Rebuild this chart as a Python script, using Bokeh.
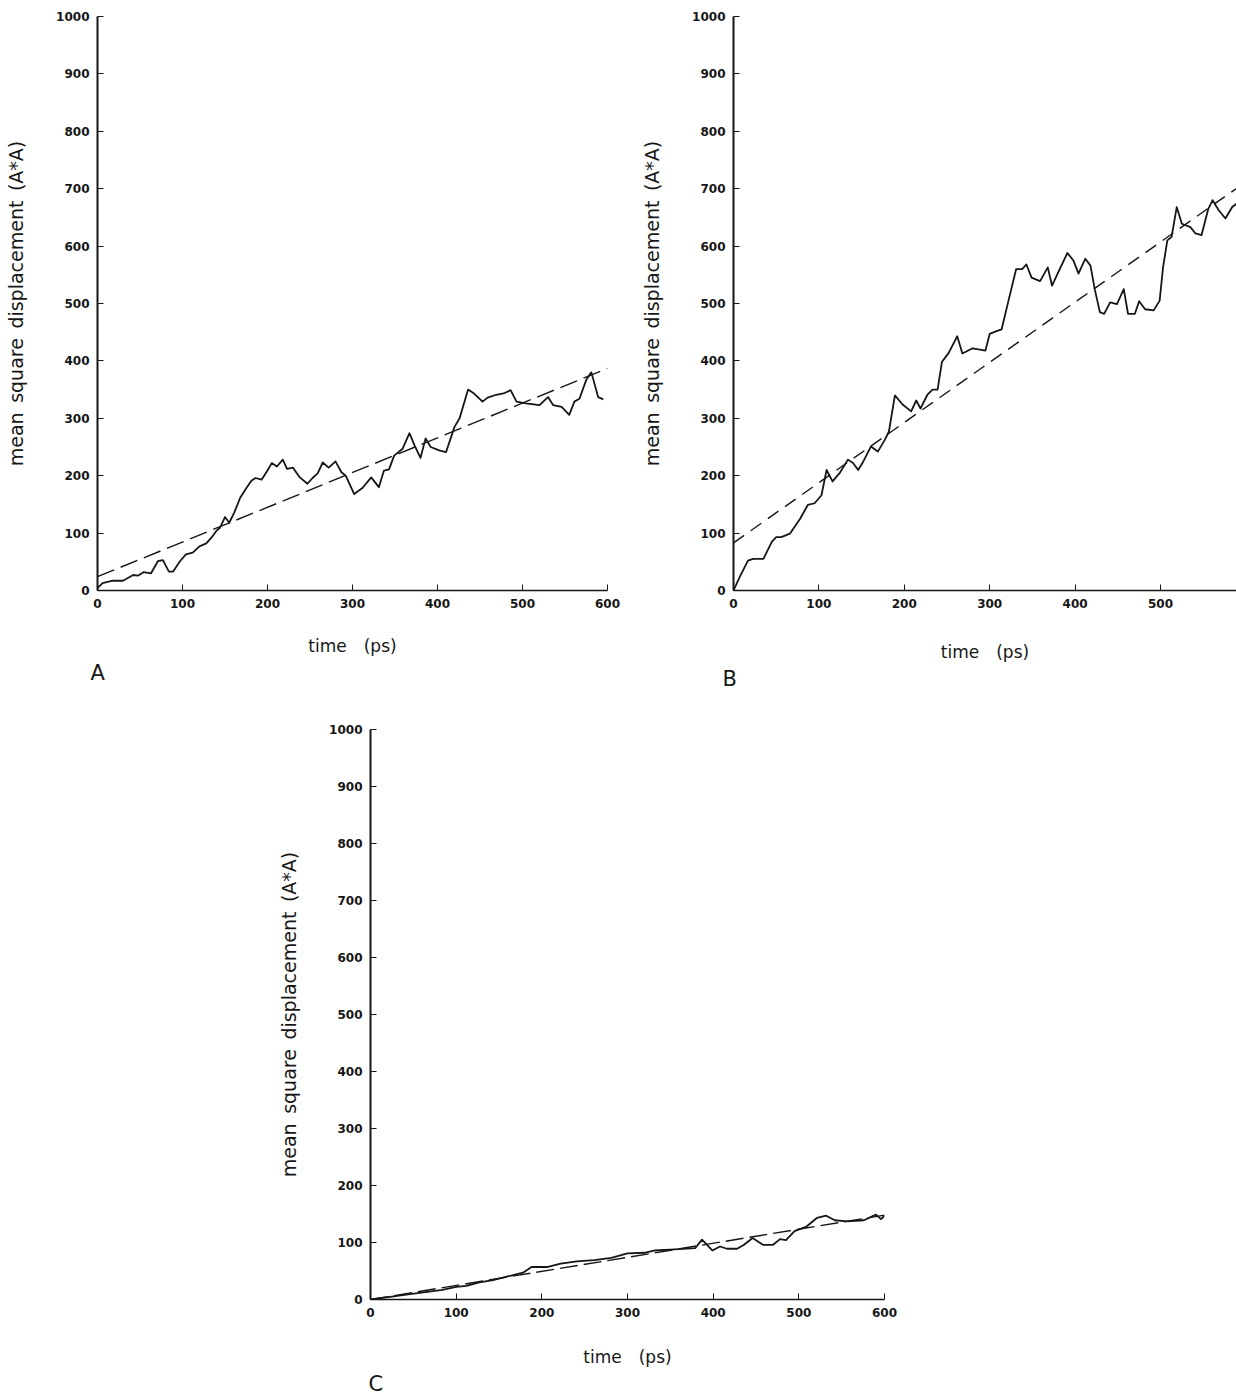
from bokeh.plotting import figure
from bokeh.layouts import column, row, Spacer
from bokeh.models import Title, FixedTicker, Range1d
from bokeh.embed import file_html
from bokeh.resources import INLINE

# ---------------- data ----------------
A_t = [0, 6, 18, 30, 42, 48, 54, 63, 71, 77, 84, 89, 97, 104, 112, 120, 128, 134, 140, 144,
       150, 155, 161, 168, 175, 181, 186, 193, 200, 205, 211, 218, 223, 230, 238, 247, 253, 259,
       265, 272, 280, 287, 292, 302, 312, 322, 331, 337, 343, 349, 359, 367, 373, 380, 386, 392,
       402, 410, 420, 426, 436, 443, 453, 459, 469, 479, 486, 493, 504, 520, 530, 536, 546, 555,
       561, 567, 575, 581, 589, 595]
A_msd = [4, 13, 17, 17, 27, 26, 32, 30, 51, 53, 33, 33, 51, 63, 66, 77, 82, 92, 104, 109,
         128, 118, 136, 162, 178, 191, 196, 193, 209, 222, 216, 228, 212, 214, 197, 186, 196, 204,
         223, 214, 225, 206, 200, 168, 179, 197, 180, 209, 211, 235, 247, 274, 253, 231, 265, 250,
         244, 241, 285, 300, 350, 343, 329, 336, 341, 344, 349, 329, 326, 323, 337, 323, 320, 306,
         329, 334, 367, 380, 337, 333]

B_t = [0, 8, 17, 23, 35, 45, 50, 56, 66, 78, 87, 95, 103, 109, 116, 124, 134, 140, 146, 151,
       161, 169, 177, 182, 189, 198, 208, 214, 219, 227, 233, 239, 244, 252, 262, 268, 280, 287,
       295, 300, 308, 314, 322, 331, 338, 343, 349, 359, 368, 373, 382, 391, 398, 404, 412, 418,
       423, 429, 434, 441, 449, 457, 462, 470, 475, 482, 492, 499, 503, 508, 513, 519, 525, 535,
       541, 548, 556, 561, 568, 576, 584, 589]
B_msd = [0, 26, 52, 55, 55, 85, 93, 93, 99, 125, 149, 152, 166, 210, 190, 204, 228, 222, 210, 222,
         251, 242, 262, 277, 340, 324, 312, 331, 317, 341, 350, 350, 398, 414, 443, 413, 422, 420,
         418, 447, 452, 455, 505, 560, 560, 568, 545, 539, 563, 531, 560, 588, 575, 552, 578, 566,
         525, 485, 482, 502, 499, 525, 482, 482, 504, 490, 488, 505, 563, 610, 616, 668, 639, 633,
         622, 619, 665, 680, 663, 648, 668, 674]

C_t = [0, 5, 25, 44, 64, 84, 100, 112, 127, 143, 159, 178, 188, 206, 222, 241, 261, 281, 300,
       320, 332, 355, 379, 387, 399, 408, 416, 428, 436, 446, 458, 470, 478, 485, 495, 509, 521,
       532, 542, 556, 576, 590, 596, 600]
C_msd = [0, 1, 5, 9, 13, 17, 22, 24, 30, 34, 40, 47, 57, 57, 63, 67, 69, 73, 81,
         82, 86, 88, 90, 105, 86, 93, 89, 89, 96, 108, 96, 96, 106, 104, 120, 128, 143,
         147, 139, 137, 139, 149, 141, 147]

# linear fits (dashed lines): values at t = 0 and t = 600 ps
fit_t = [0, 600]
A_fit = [24, 387]
B_fit = [83, 712]
C_fit = [0, 148]

x_ticks_full = [0, 100, 200, 300, 400, 500, 600]
x_ticks_B = [0, 100, 200, 300, 400, 500]
y_ticks = [0, 100, 200, 300, 400, 500, 600, 700, 800, 900, 1000]

y_title = "mean\u2002square\u2002displacement\u2002(A*A)"
x_title = "time\u2003(ps)"

INK = "#161616"
FONT = "DejaVu Sans"


def panel(t, msd, fit, letter, x_end, xticks, dash, width, height,
          left, right, top, bottom, letter_dx, title_standoff):
    p = figure(width=width, height=height,
               x_range=Range1d(0, x_end), y_range=Range1d(0, 1000),
               output_backend="svg", toolbar_location=None,
               min_border_left=left, min_border_right=right,
               min_border_top=top, min_border_bottom=bottom)
    p.outline_line_color = None
    p.grid.visible = False
    p.background_fill_color = "white"
    p.border_fill_color = "white"

    p.line(fit_t, fit, line_color=INK, line_width=1.4, line_dash=dash)
    p.line(t, msd, line_color=INK, line_width=1.8, line_join="round")

    for ax in (p.xaxis[0], p.yaxis[0]):
        ax.axis_line_color = INK
        ax.major_tick_line_color = INK
        ax.major_tick_in = 6
        ax.major_tick_out = 0
        ax.minor_tick_line_color = None
        ax.major_label_text_font = FONT
        ax.major_label_text_font_style = "bold"
        ax.major_label_text_font_size = "12px"
        ax.major_label_text_color = INK
        ax.axis_label_text_font = FONT
        ax.axis_label_text_font_style = "normal"
        ax.axis_label_text_color = INK
    p.xaxis.axis_label_text_font_size = "17px"
    p.yaxis.axis_label_text_font_size = "19px"
    p.yaxis.axis_line_width = 2
    p.xaxis.axis_line_width = 1.5
    p.xaxis.ticker = FixedTicker(ticks=xticks)
    p.yaxis.ticker = FixedTicker(ticks=y_ticks)
    p.xaxis.major_label_standoff = 8
    p.yaxis.major_label_standoff = 8
    p.xaxis.axis_label = x_title
    p.yaxis.axis_label = y_title
    p.xaxis.axis_label_standoff = title_standoff
    p.yaxis.axis_label_standoff = 26

    p.add_layout(Title(text=letter, align="left", text_font=FONT,
                       text_font_size="21px", text_font_style="normal",
                       text_color=INK, offset=letter_dx, standoff=0), "below")
    return p


# row: both frames share top 16 / bottom 590
pA = panel(A_t, A_msd, A_fit, "A", 600, x_ticks_full, "18 7", 638, 690,
           97, 31, 16, 100, -7, 25)
pB = panel(B_t, B_msd, B_fit, "B", 589, x_ticks_B, "13 8", 598, 690,
           95, 0, 16, 100, -11, 31)
pC = panel(C_t, C_msd, C_fit, "C", 600, x_ticks_full, "18 6", 644, 707,
           96, 34, 39, 98, -2, 27)

layout = column(row(pA, pB), row(Spacer(width=274, height=10), pC))

open("out.html", "w").write(file_html(layout, INLINE))
